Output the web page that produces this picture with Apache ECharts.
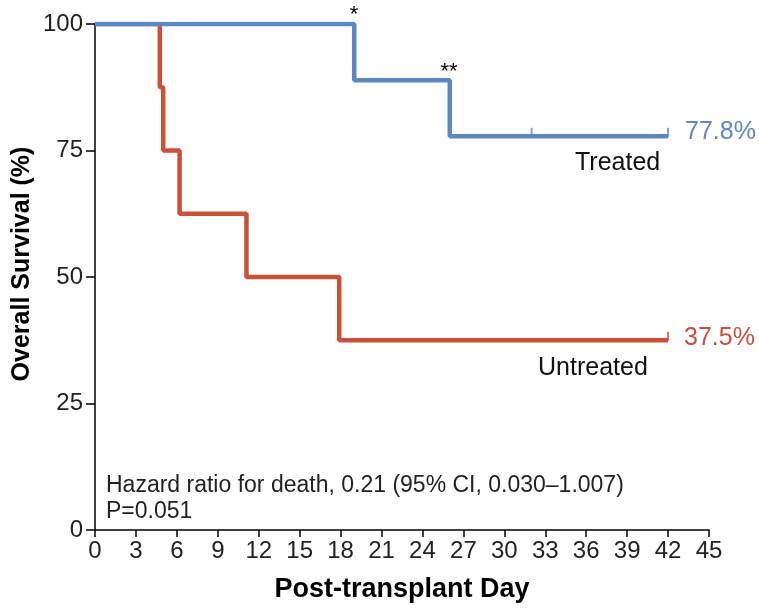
<!DOCTYPE html>
<html><head><meta charset="utf-8">
<script src="https://cdn.jsdelivr.net/npm/echarts@6/dist/echarts.min.js"></script>
<style>html,body{margin:0;padding:0;background:#fff}#c{width:759px;height:608px}</style>
</head><body><div id="c"></div>
<script>
var xTicks = [0,3,6,9,12,15,18,21,24,27,30,33,36,39,42,45];
var yTicks = [0,25,50,75,100];
var treatedDays = [0,19,26,42];
var treatedSurv = [100,88.9,77.8,77.8];
var treatedCensorDays = [32,42];
var treatedCensorSurv = [77.8,77.8];
var untreatedDays = [0,4.75,5.0,6.2,11.1,17.9,42];
var untreatedSurv = [100,87.5,75,62.5,50,37.5,37.5];
var untreatedCensorDays = [42];
var untreatedCensorSurv = [37.5];

var BLUE = '#5b87c6', RED = '#cd4f3a';
var FONT = 'Liberation Sans, Arial, sans-serif';
function pairs(a,b){return a.map(function(v,i){return [v,b[i]];});}

var chart = echarts.init(document.getElementById('c'));
chart.setOption({
  animation:false,
  grid:{left:95,right:50,top:24,bottom:76,containLabel:false},
  xAxis:{type:'value',min:0,max:45,interval:3,
    axisLine:{lineStyle:{color:'#000',width:1.5}},
    axisTick:{show:true,length:7,lineStyle:{color:'#000',width:1.5}},
    axisLabel:{color:'#222',fontSize:24,fontFamily:FONT,margin:9},
    splitLine:{show:false},
    name:'Post-transplant Day',nameLocation:'middle',nameGap:46,
    nameTextStyle:{fontSize:27,fontWeight:'bold',color:'#000',fontFamily:FONT}},
  yAxis:{type:'value',min:0,max:100,interval:25,
    axisLine:{show:true,lineStyle:{color:'#000',width:1.5}},
    axisTick:{show:true,length:9,lineStyle:{color:'#000',width:1.5}},
    axisLabel:{color:'#222',fontSize:24,fontFamily:FONT,margin:12},
    splitLine:{show:false}},
  series:[
    {type:'line',step:'end',data:pairs(treatedDays,treatedSurv),showSymbol:false,
      lineStyle:{color:BLUE,width:4.5},z:3},
    {type:'line',step:'end',data:pairs(untreatedDays,untreatedSurv),showSymbol:false,
      lineStyle:{color:RED,width:4.5},z:2},
    {type:'scatter',data:pairs(treatedCensorDays,treatedCensorSurv),symbol:'rect',
      symbolSize:[2,9],symbolOffset:[0,-4],itemStyle:{color:BLUE},z:4},
    {type:'scatter',data:pairs(untreatedCensorDays,untreatedCensorSurv),symbol:'rect',
      symbolSize:[2,9],symbolOffset:[0,-4],itemStyle:{color:RED},z:4}
  ],
  graphic:[
    {type:'text',x:22,y:264,rotation:Math.PI/2,
      style:{text:'Overall Survival (%)',fontSize:25,fontWeight:'bold',fill:'#000',fontFamily:FONT,align:'center',verticalAlign:'middle'}},
    {type:'text',x:354,y:15,style:{text:'*',fontSize:22,fill:'#000',fontFamily:FONT,align:'center',verticalAlign:'middle'}},
    {type:'text',x:449,y:72,style:{text:'**',fontSize:22,fill:'#000',fontFamily:FONT,align:'center',verticalAlign:'middle'}},
    {type:'text',left:685,top:120,style:{text:'77.8%',fontSize:25,fill:BLUE,fontFamily:FONT}},
    {type:'text',left:575,top:151,style:{text:'Treated',fontSize:25,fill:'#111',fontFamily:FONT}},
    {type:'text',left:684,top:326,style:{text:'37.5%',fontSize:25,fill:RED,fontFamily:FONT}},
    {type:'text',left:538,top:356,style:{text:'Untreated',fontSize:25,fill:'#111',fontFamily:FONT}},
    {type:'text',left:106,top:474,style:{text:'Hazard ratio for death, 0.21 (95% CI, 0.030\u20131.007)',fontSize:23,fill:'#222',fontFamily:FONT}},
    {type:'text',left:106,top:500,style:{text:'P=0.051',fontSize:23,fill:'#222',fontFamily:FONT}}
  ]
});
</script></body></html>
